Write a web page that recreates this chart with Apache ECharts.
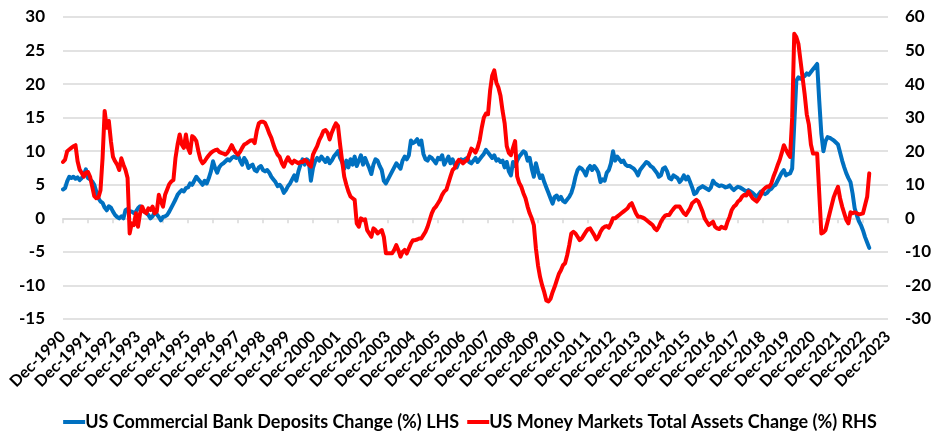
<!DOCTYPE html>
<html>
<head>
<meta charset="utf-8">
<title>US Bank Deposits vs Money Market Assets</title>
<script src="https://cdn.jsdelivr.net/npm/echarts@6/dist/echarts.min.js"></script>
<style>
  html, body { margin: 0; padding: 0; background: #fff; }
  #chart { width: 940px; height: 444px; }
</style>
</head>
<body>
<div id="chart"></div>
<script>
// tick labels on the x axis, one per December
var yearLabels = ['Dec-1990', 'Dec-1991', 'Dec-1992', 'Dec-1993', 'Dec-1994', 'Dec-1995', 'Dec-1996',
    'Dec-1997', 'Dec-1998', 'Dec-1999', 'Dec-2000', 'Dec-2001', 'Dec-2002', 'Dec-2003', 'Dec-2004',
    'Dec-2005', 'Dec-2006', 'Dec-2007', 'Dec-2008', 'Dec-2009', 'Dec-2010', 'Dec-2011', 'Dec-2012',
    'Dec-2013', 'Dec-2014', 'Dec-2015', 'Dec-2016', 'Dec-2017', 'Dec-2018', 'Dec-2019', 'Dec-2020',
    'Dec-2021', 'Dec-2022', 'Dec-2023'];
var monthNames = ['Jan', 'Feb', 'Mar', 'Apr', 'May', 'Jun', 'Jul', 'Aug', 'Sep', 'Oct', 'Nov', 'Dec'];

var seriesNames = ['US Commercial Bank Deposits Change (%) LHS', 'US Money Markets Total Assets Change (%) RHS'];

// monthly, from Dec-1990 to Mar-2023 (left axis)
var deposits = [
    4.3,
    4.5, 5.5, 6.2, 6.0, 6.2, 5.9, 6.1, 5.7, 6.0, 6.5, 7.3, 6.0,
    5.8, 5.5, 5.0, 4.0, 3.0, 2.5, 2.3, 1.6, 1.2, 1.8, 1.6, 1.0,
    0.5, 0.2, 0.0, 0.3, 0.0, 1.2, 1.4, 1.0, 1.0, 0.8, 1.0, 1.5,
    1.8, 1.4, 1.0, 0.8, 0.5, 0.0, 0.3, 0.9, 0.6, 0.2, -0.3, 0.2,
    0.3, 0.5, 1.0, 1.6, 2.2, 2.8, 3.5, 3.9, 4.2, 4.0, 4.5, 4.6,
    5.2, 5.0, 5.6, 6.2, 5.8, 5.4, 5.0, 5.6, 5.2, 6.0, 7.0, 8.5,
    7.5, 6.8, 7.6, 8.0, 8.2, 8.5, 8.8, 8.6, 9.0, 9.2, 9.0, 9.4,
    8.6, 8.0, 9.0, 8.5, 7.5, 7.8, 8.0, 7.2, 7.0, 7.6, 7.8, 7.2,
    7.0, 7.2, 6.8, 6.2, 5.8, 5.4, 4.8, 5.0, 4.6, 3.8, 4.2, 4.8,
    5.2, 5.8, 6.4, 5.6, 7.0, 8.0, 8.8, 8.0, 8.8, 8.5, 5.6, 7.5,
    8.5, 9.0, 8.6, 9.2, 8.8, 8.4, 9.0, 8.2, 8.6, 9.2, 9.6, 10.0,
    9.0, 8.4, 7.4, 8.6, 7.6, 8.8, 8.0, 9.2, 7.8, 8.6, 9.4, 8.0,
    9.0, 8.2, 7.5, 6.6, 8.0, 8.8, 8.6, 7.8, 7.2, 5.6, 5.2, 5.8,
    6.4, 7.0, 7.6, 8.2, 7.8, 7.4, 8.6, 9.2, 8.8, 9.4, 11.6, 11.2,
    11.4, 11.8, 11.0, 11.6, 9.6, 8.8, 8.6, 9.2, 9.0, 8.6, 8.2, 9.0,
    8.8, 9.4, 8.0, 8.6, 9.2, 8.2, 8.8, 8.0, 7.6, 8.4, 8.8, 8.6,
    8.8, 9.0, 8.4, 8.2, 8.6, 9.0, 8.4, 8.8, 9.2, 9.6, 10.2, 9.8,
    9.4, 9.0, 9.4, 8.6, 8.8, 8.4, 8.6, 7.6, 8.4, 7.0, 6.4, 8.4,
    7.8, 8.6, 9.2, 9.6, 10.0, 9.8, 8.6, 9.0, 7.4, 6.2, 8.2, 7.0,
    6.0, 6.4, 5.4, 4.6, 3.8, 3.0, 2.2, 3.2, 3.4, 2.8, 3.2, 2.6,
    2.4, 2.8, 3.2, 3.8, 4.8, 6.2, 7.2, 7.6, 7.4, 7.0, 6.4, 7.4,
    7.8, 7.2, 7.8, 7.4, 6.8, 5.4, 5.8, 5.6, 6.8, 7.2, 8.2, 10.0,
    8.6, 9.2, 8.8, 8.4, 8.6, 8.0, 7.8, 7.8, 7.6, 7.4, 7.0, 6.4,
    7.2, 7.6, 8.0, 8.4, 8.2, 7.8, 7.6, 7.2, 6.8, 6.2, 6.4, 7.4,
    7.6, 7.0, 6.0, 5.8, 6.4, 6.2, 6.0, 5.4, 5.8, 6.4, 5.8, 6.2,
    5.4, 4.6, 3.6, 3.8, 4.4, 4.6, 4.8, 4.6, 4.4, 4.2, 4.6, 5.6,
    5.2, 5.0, 4.8, 4.9, 4.8, 4.6, 4.7, 4.9, 4.5, 4.2, 4.5, 4.7,
    4.6, 4.4, 4.2, 4.0, 4.2, 4.0, 3.8, 3.5, 3.2, 3.6, 4.0, 3.8,
    3.6, 3.8, 4.2, 4.4, 4.8, 5.0, 5.6, 6.2, 6.8, 7.2, 6.4, 6.6,
    6.7, 7.4, 14.0, 20.5, 21.0, 20.8, 21.0, 21.2, 21.6, 21.4, 21.8, 22.2,
    22.6, 23.0, 17.5, 12.6, 10.0, 11.5, 12.1, 12.0, 11.8, 11.6, 11.3, 11.0,
    9.8, 8.6, 7.6, 6.7, 6.0, 5.4, 3.7, 1.5, 0.5, -0.4, -1.0, -1.8,
    -2.8, -3.6, -4.4
];

// monthly, from Dec-1990 to Mar-2023 (right axis)
var moneyMarkets = [
    16.8,
    17.5, 20.0, 20.5, 21.0, 21.5, 21.8, 17.0, 14.5, 13.5, 12.4, 13.6, 13.8,
    12.4, 9.5, 6.6, 6.0, 6.2, 8.4, 18.0, 32.0, 27.0, 29.0, 23.0, 18.3,
    17.0, 16.0, 14.4, 17.9, 16.0, 14.4, 12.0, -4.5, -1.5, -2.0, 1.5, -2.5,
    1.5, 3.5, 2.0, 1.5, 3.0, 2.5, 3.5, 1.5, 2.0, 7.0, 5.0, 3.5,
    7.0, 8.6, 10.2, 11.0, 11.4, 18.0, 22.0, 25.0, 22.0, 21.0, 25.0, 21.0,
    19.5, 24.5, 24.0, 23.0, 20.0, 17.5, 16.4, 17.0, 18.0, 18.8, 19.5, 20.0,
    20.3, 20.5, 19.8, 19.5, 19.3, 19.0, 19.6, 20.6, 21.8, 20.5, 19.6, 19.0,
    19.8, 21.0, 22.0, 22.3, 22.8, 23.2, 23.3, 22.4, 26.0, 28.3, 28.8, 28.8,
    28.4, 27.0, 25.3, 24.0, 22.0, 20.3, 19.0, 18.3, 16.5, 15.4, 17.0, 18.2,
    17.0, 16.4, 17.2, 16.8, 16.4, 16.8, 16.8, 17.4, 17.0, 16.0, 15.4, 19.0,
    20.3, 21.5, 23.3, 24.5, 26.0, 26.3, 25.5, 23.5, 25.5, 27.0, 28.3, 27.5,
    22.0, 17.0, 12.4, 10.0, 8.0, 6.5, 6.0, 5.5, -1.5, -2.5, 0.0, -0.5,
    -0.3, -3.5, -4.5, -5.5, -3.0, -3.5, -4.5, -4.0, -3.5, -5.5, -10.4, -10.4,
    -10.4, -10.4, -9.4, -8.0, -9.5, -11.4, -10.0, -9.4, -10.5, -9.0, -7.5, -6.5,
    -6.5, -6.3, -6.0, -6.0, -5.0, -4.0, -2.5, -0.5, 1.5, 2.8, 3.5, 4.5,
    5.5, 7.0, 8.0, 8.5, 10.5, 12.5, 14.4, 15.0, 16.5, 17.4, 17.0, 16.4,
    17.0, 17.4, 19.0, 20.8, 20.3, 19.6, 21.0, 23.3, 27.0, 30.0, 31.2, 31.0,
    38.0, 42.5, 44.1, 40.5, 39.0, 36.5, 32.0, 28.3, 21.5, 19.5, 18.8, 21.0,
    23.0, 12.5, 10.5, 9.4, 7.5, 6.0, 3.5, 1.5, 0.0, -2.0, -9.0, -14.0,
    -17.5, -20.0, -22.0, -24.5, -24.8, -24.0, -22.0, -20.4, -18.5, -16.6, -15.5, -14.0,
    -13.4, -11.0, -8.0, -4.5, -4.0, -4.5, -5.5, -6.5, -6.0, -5.0, -4.0, -3.2,
    -3.0, -4.0, -5.0, -6.3, -5.5, -4.0, -3.0, -2.5, -2.3, -2.8, -1.5, 0.0,
    0.0, 0.5, 1.0, 1.5, 2.0, 2.5, 3.0, 4.0, 4.5, 3.0, 1.5, 0.5,
    0.5, 0.3, 0.0, -0.5, -1.0, -1.5, -2.0, -3.0, -3.5, -2.5, -1.0, 0.0,
    0.8, 1.0, 1.0, 2.0, 2.8, 3.5, 3.5, 3.5, 2.5, 1.5, 1.0, 2.0,
    3.0, 4.5, 5.0, 5.5, 5.0, 3.5, 2.0, 0.0, -1.0, -2.0, -1.5, -1.0,
    -2.5, -3.0, -3.2, -2.5, -2.8, -3.0, -1.0, 0.5, 2.5, 3.5, 4.0, 5.0,
    5.5, 6.5, 7.0, 6.8, 8.0, 7.0, 6.0, 5.5, 5.0, 5.8, 7.0, 8.4,
    9.0, 9.5, 9.4, 10.4, 12.4, 14.0, 15.8, 17.4, 19.5, 21.8, 20.5, 19.3,
    18.3, 30.0, 55.0, 54.0, 52.0, 47.0, 42.0, 37.0, 31.0, 28.0, 22.0, 19.3,
    19.3, 19.3, 7.4, -4.5, -4.2, -3.5, -1.0, 1.5, 4.0, 6.4, 8.0, 9.4,
    6.0, 3.5, 1.5, -0.5, -1.5, 1.8, 1.5, 1.8, 1.5, 1.2, 1.3, 1.5,
    4.0, 6.4, 13.4
];

// month categories Dec-1990 .. Dec-2023
var months = [];
for (var i = 0; i < yearLabels.length - 1; i++) {
    months.push(yearLabels[i]);
    var yr = yearLabels[i + 1].substring(4);
    for (var k = 0; k < 11; k++) {
        months.push(monthNames[k] + '-' + yr);
    }
}
months.push(yearLabels[yearLabels.length - 1]);

var isDec = function (idx) { return idx % 12 === 0; };
var fontFam = 'Lato, "Open Sans", sans-serif';

var chart = echarts.init(document.getElementById('chart'));
chart.setOption({
    animation: false,
    backgroundColor: '#fff',
    grid: { left: 63, right: 52, top: 17, bottom: 125, containLabel: false },
    legend: {
        bottom: 8,
        left: 'center',
        icon: 'rect',
        itemWidth: 22,
        itemHeight: 4,
        itemGap: 8,
        textStyle: { fontFamily: fontFam, fontWeight: 'bold', fontSize: 18, color: '#000', padding: [0, 0, 0, -5] },
        data: seriesNames
    },
    xAxis: [{
        type: 'category',
        data: months,
        boundaryGap: false,
        position: 'bottom',
        axisLine: { show: false, onZero: false },
        axisTick: { show: false },
        axisLabel: {
            interval: isDec,
            rotate: 45,
            margin: 15,
            fontFamily: fontFam,
            fontWeight: 'bold',
            fontSize: 16,
            color: '#000'
        },
        splitLine: { show: false }
    }, {
        type: 'category',
        data: months,
        boundaryGap: false,
        position: 'bottom',
        axisLine: { show: true, onZero: true, onZeroAxisIndex: 0, lineStyle: { color: '#d9d9d9', width: 1.5 } },
        axisTick: { show: true, interval: isDec, length: 5, lineStyle: { color: '#d9d9d9', width: 1.5 } },
        axisLabel: { show: false },
        splitLine: { show: false }
    }],
    yAxis: [{
        type: 'value',
        min: -15,
        max: 30,
        interval: 5,
        axisLine: { show: false },
        axisTick: { show: false },
        axisLabel: { margin: 18, fontFamily: fontFam, fontWeight: 'bold', fontSize: 17, color: '#000' },
        splitLine: { lineStyle: { color: '#d9d9d9', width: 1.5 } }
    }, {
        type: 'value',
        min: -30,
        max: 60,
        interval: 10,
        position: 'right',
        axisLine: { show: false },
        axisTick: { show: false },
        axisLabel: { margin: 17, fontFamily: fontFam, fontWeight: 'bold', fontSize: 17, color: '#000' },
        splitLine: { show: false }
    }],
    series: [{
        name: seriesNames[0],
        type: 'line',
        xAxisIndex: 0,
        yAxisIndex: 0,
        data: deposits,
        showSymbol: false,
        symbol: 'none',
        lineStyle: { color: '#0070c0', width: 4, cap: 'round', join: 'round' },
        itemStyle: { color: '#0070c0' }
    }, {
        name: seriesNames[1],
        type: 'line',
        xAxisIndex: 0,
        yAxisIndex: 1,
        data: moneyMarkets,
        showSymbol: false,
        symbol: 'none',
        lineStyle: { color: '#ff0000', width: 4, cap: 'round', join: 'round' },
        itemStyle: { color: '#ff0000' }
    }]
});
</script>
</body>
</html>
